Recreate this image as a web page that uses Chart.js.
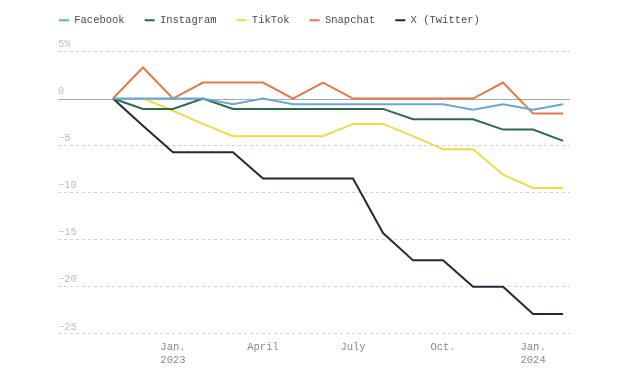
<!DOCTYPE html>
<html>
<head>
<meta charset="utf-8">
<script src="https://cdn.jsdelivr.net/npm/chart.js@4/dist/chart.umd.min.js"></script>
<style>
  html, body { margin: 0; padding: 0; background: #ffffff; }
  #wrap { width: 620px; height: 377px; position: relative; }
</style>
</head>
<body>
<div id="wrap"><canvas id="c" width="620" height="377"></canvas></div>
<script>
// Months (Nov 2022 – Feb 2024)
const months = ['Nov 2022','Dec 2022','Jan 2023','Feb 2023','Mar 2023','Apr 2023','May 2023','Jun 2023',
                'Jul 2023','Aug 2023','Sep 2023','Oct 2023','Nov 2023','Dec 2023','Jan 2024','Feb 2024'];

const facebook  = [0, 0, 0, 0, -0.6, 0, -0.6, -0.6, -0.6, -0.6, -0.6, -0.6, -1.2, -0.6, -1.2, -0.6];
const instagram = [0, -1.1, -1.1, 0, -1.1, -1.1, -1.1, -1.1, -1.1, -1.1, -2.2, -2.2, -2.2, -3.3, -3.3, -4.5];
const tiktok    = [null, 0, -1.3, -2.7, -4.0, -4.0, -4.0, -4.0, -2.7, -2.7, -4.0, -5.4, -5.4, -8.1, -9.5, -9.5];
const snapchat  = [0, 3.3, 0, 1.7, 1.7, 1.7, 0, 1.7, 0, 0, 0, 0, 0, 1.7, -1.6, -1.6];
const twitter   = [0, -2.9, -5.7, -5.7, -5.7, -8.5, -8.5, -8.5, -8.5, -14.3, -17.2, -17.2, -20.0, -20.0, -22.9, -22.9];

const seriesNames = ['Facebook', 'Instagram', 'TikTok', 'Snapchat', 'X (Twitter)'];
const xTickMonths = ['Jan 2023', 'Apr 2023', 'Jul 2023', 'Oct 2023', 'Jan 2024'];
const xTickLabels = [['Jan.', '2023'], 'April', 'July', 'Oct.', ['Jan.', '2024']];
const yTickValues = [5, 0, -5, -10, -15, -20, -25];

const colors = ['#67a9d4', '#2c6a4f', '#ecdb4c', '#e07a4b', '#222a3a'];
const FONT = '"Liberation Mono", "DejaVu Sans Mono", monospace';

const allSeries = [facebook, instagram, tiktok, snapchat, twitter];
const datasets = allSeries.map((vals, k) => ({
  label: seriesNames[k],
  data: vals.map((v, i) => ({ x: i, y: v })),
  borderColor: colors[k],
  backgroundColor: colors[k],
  borderWidth: 2,
  pointRadius: 0,
  pointHoverRadius: 0,
  tension: 0,
  fill: false
}));

const xTickIdx = xTickMonths.map(m => months.indexOf(m));

const zeroLine = {
  id: 'zeroLine',
  beforeDatasetsDraw(chart) {
    const y = chart.scales.y.getPixelForValue(0);
    const a = chart.chartArea;
    const ctx = chart.ctx;
    ctx.save();
    ctx.strokeStyle = '#a8a8a8';
    ctx.lineWidth = 1;
    ctx.beginPath();
    ctx.moveTo(a.left, Math.round(y) + 0.5);
    ctx.lineTo(a.right, Math.round(y) + 0.5);
    ctx.stroke();
    ctx.restore();
  }
};

// Add extra space below the legend (legend items stay where they are)
const legendGap = {
  id: 'legendGap',
  afterInit(chart) {
    const lg = chart.legend;
    if (!lg) return;
    const origFit = lg.fit.bind(lg);
    lg.fit = function () { origFit(); this.height += 16; };
  }
};

new Chart(document.getElementById('c'), {
  type: 'line',
  data: { datasets },
  plugins: [zeroLine, legendGap],
  options: {
    responsive: false,
    animation: false,
    events: [],
    layout: { padding: { left: 39, right: 50, top: -5, bottom: 3 } },
    plugins: {
      tooltip: { enabled: false },
      legend: {
        display: true,
        position: 'top',
        align: 'start',
        labels: {
          usePointStyle: true,
          pointStyle: 'line',
          pointStyleWidth: 10,
          boxHeight: 10,
          padding: 20,
          color: '#4a4a4a',
          font: { family: FONT, size: 10.5 }
        }
      }
    },
    scales: {
      x: {
        type: 'linear',
        min: -1.83,
        max: 15.23,
        border: { display: false },
        grid: { display: false, drawTicks: false },
        afterBuildTicks: (scale) => { scale.ticks = xTickIdx.map(v => ({ value: v })); },
        ticks: {
          autoSkip: false,
          maxRotation: 0,
          padding: 7,
          color: '#888',
          font: { family: FONT, size: 10.5, lineHeight: 1.25 },
          callback: (v) => { const k = xTickIdx.indexOf(v); return k >= 0 ? xTickLabels[k] : ''; }
        }
      },
      y: {
        min: -25,
        max: 5,
        afterFit: (scale) => { scale.width = 19; },
        afterBuildTicks: (scale) => { scale.ticks = yTickValues.map(v => ({ value: v })); },
        border: { display: false, dash: [3, 3] },
        grid: {
          drawTicks: false,
          lineWidth: 1,
          color: (ctx) => (ctx.tick && ctx.tick.value === 0) ? 'rgba(0,0,0,0)' : '#d2d2d2'
        },
        ticks: {
          mirror: true,
          padding: 0,
          labelOffset: -7,
          color: '#bdbdbd',
          font: { family: FONT, size: 10.5 },
          callback: (v) => v === 5 ? '5%' : (v < 0 ? '\u2212' + Math.abs(v) : String(v))
        }
      }
    }
  }
});
</script>
</body>
</html>
